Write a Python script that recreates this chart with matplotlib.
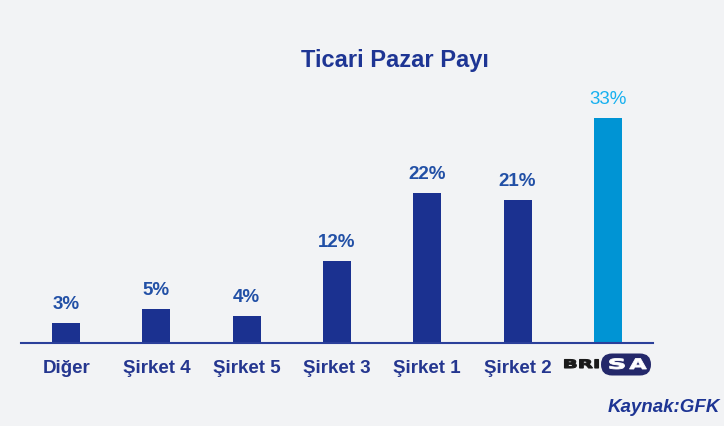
import matplotlib
matplotlib.use("Agg")
import matplotlib.pyplot as plt
from matplotlib import font_manager
from matplotlib.patches import FancyBboxPatch, PathPatch
from matplotlib.textpath import TextPath
from matplotlib.font_manager import FontProperties
from matplotlib.transforms import IdentityTransform, Affine2D

names = {f.name for f in font_manager.fontManager.ttflist}

categories = ["Diğer", "Şirket 4", "Şirket 5", "Şirket 3", "Şirket 1", "Şirket 2", "BRISA"]
values = [3, 5, 4, 12, 22, 21, 33]
labels = ["3%", "5%", "4%", "12%", "22%", "21%", "33%"]

FONT = "Liberation Sans Narrow" if "Liberation Sans Narrow" in names else "Liberation Sans"

W, H = 724, 426
fig = plt.figure(figsize=(W / 100, H / 100), dpi=100)
fig.patch.set_facecolor("#F2F3F5")


def fx(px):
    return px / W


def fy(py):
    return 1 - py / H


ax = fig.add_axes([fx(21), fy(343), fx(653) - fx(21), fy(118) - fy(343)])
ax.set_facecolor("none")
ax.set_xlim(-0.5, 6.5)
ax.set_ylim(0, 33)
for s in ["top", "right", "left"]:
    ax.spines[s].set_visible(False)
ax.spines["bottom"].set_color("#2B3F9A")
ax.spines["bottom"].set_linewidth(1.5)
ax.set_xticks([])
ax.set_yticks([])

navy = "#1B3190"
colors = [navy] * 6 + ["#0094D4"]
x = list(range(len(categories)))
ax.bar(x, values, width=0.31, color=colors)

for i, (v, lab) in enumerate(zip(values, labels)):
    c = "#17B0EF" if i == 6 else "#2250A6"
    ax.annotate(lab, (i, v), xytext=(0, 7), textcoords="offset points",
                ha="center", va="bottom", fontsize=13.5, color=c,
                fontfamily=FONT, fontweight="bold" if i < 6 else "normal",
                annotation_clip=False)

for i, cat in enumerate(categories[:6]):
    ax.text(i, -3.75, cat, ha="center", va="center", fontsize=13.5,
            color="#24368F", fontfamily=FONT, fontweight="bold")


# BRISA logo, drawn in image pixel coordinates
def fit_text(s, x0, x1, top, bottom, color, lw=0.0):
    tp = TextPath((0, 0), s, size=20,
                  prop=FontProperties(family="DejaVu Sans", weight="bold"))
    ext = tp.get_extents()
    sx = (x1 - x0) / ext.width
    sy = (bottom - top) / ext.height
    tr = (Affine2D().translate(-ext.x0, -ext.y0).scale(sx, sy)
          .translate(x0, H - bottom))
    path = tr.transform_path(tp)
    fig.add_artist(PathPatch(path, facecolor=color,
                             edgecolor=color if lw else "none", linewidth=lw,
                             transform=IdentityTransform()))


fit_text("BRI", 564.5, 598.5, 359.5, 368, "#1A1A1A", lw=0.8)
pill = FancyBboxPatch((601, H - 375.5), 50, 22,
                      boxstyle="round,pad=0,rounding_size=11",
                      transform=IdentityTransform(), facecolor="#24286A",
                      edgecolor="none")
fig.add_artist(pill)
fit_text("S", 609.5, 624.5, 358.5, 369, "white", lw=0.6)
fit_text("A", 629.5, 646.5, 358.5, 369, "white", lw=0.6)

fig.text(fx(395), fy(60), "Ticari Pazar Payı", ha="center", va="center",
         fontsize=17, color="#1E3594", fontfamily=FONT, fontweight="bold")

fig.text(fx(720), fy(408), "Kaynak:GFK", ha="right", va="center",
         fontsize=13.5, color="#1E3594", fontfamily=FONT, fontweight="bold",
         fontstyle="italic")

fig.savefig("out.png", dpi=100, facecolor=fig.get_facecolor())
